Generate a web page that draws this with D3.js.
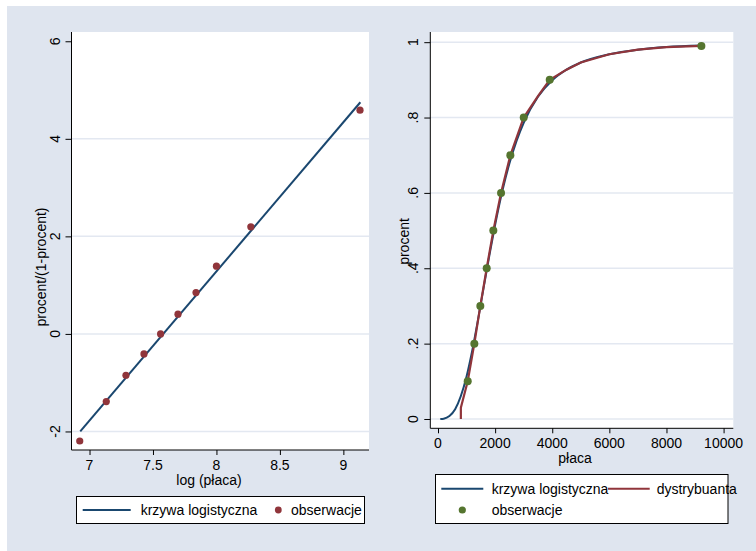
<!DOCTYPE html>
<html>
<head>
<meta charset="utf-8">
<script src="https://cdn.jsdelivr.net/npm/d3@7"></script>
<style>
body { margin: 0; background: #fff; }
svg text { font-family: "Liberation Sans", Arial, sans-serif; font-size: 14px; fill: #000; }
</style>
</head>
<body>
<div id="wykres"></div>
<script>
// lewy panel: logit procentu wzgledem log(placa)
var logPlaca = [6.923, 7.132, 7.287, 7.429, 7.560, 7.697, 7.839, 8.0, 8.271, 9.131];
var logitProcent = [-2.195, -1.388, -0.847, -0.41, 0, 0.405, 0.847, 1.388, 2.195, 4.588];
var prostaX = [6.927, 9.134];
var prostaY = [-2.0, 4.75];
var lewyTicksX = [7, 7.5, 8, 8.5, 9];
var lewyTicksY = [-2, 0, 2, 4, 6];

// prawy panel: procent wzgledem placy
var placa = [1040, 1272, 1482, 1705, 1937, 2207, 2533, 3001, 3912, 9222];
var procent = [0.1, 0.2, 0.3, 0.4, 0.5, 0.6, 0.7, 0.8, 0.9, 0.99];
var krzywaX = [80, 200, 400, 600, 800, 1000, 1200, 1400, 1600, 1800, 2000, 2250, 2500, 2750, 3000, 3500, 4000, 4500, 5000, 6000, 7000, 8000, 9230];
var krzywaY = [0.0001, 0.0009, 0.008, 0.026, 0.061, 0.113, 0.182, 0.263, 0.350, 0.435, 0.515, 0.604, 0.678, 0.738, 0.786, 0.855, 0.899, 0.927, 0.946, 0.968, 0.980, 0.987, 0.991];
var dystX = [800, 800, 1040, 1272, 1482, 1705, 1937, 2207, 2533, 3001, 3500, 3912, 4500, 5000, 6000, 7000, 8000, 9222];
var dystY = [0, 0.03, 0.1, 0.2, 0.3, 0.4, 0.5, 0.6, 0.7, 0.8, 0.857, 0.9, 0.927, 0.946, 0.968, 0.980, 0.987, 0.99];
var prawyTicksX = [0, 2000, 4000, 6000, 8000, 10000];
var prawyTicksY = [0, 0.2, 0.4, 0.6, 0.8, 1];
var prawyLabelsY = ["0", ".2", ".4", ".6", ".8", "1"];

var w = 756, h = 551;
var granat = '#1a476f', bordo = '#90353b', zielony = '#55752f';
var tlo = '#dfe5ef', siatka = '#e3e8f1';

var svg = d3.select("#wykres").append("svg")
   .attr("width", w)
   .attr("height", h);

svg.append("rect")
   .attr("x", 7).attr("y", 6)
   .attr("width", w - 7).attr("height", h - 6)
   .attr("fill", tlo);

function panel(o) {
  var x = d3.scaleLinear().domain(o.domX).range([o.left, o.right]);
  var y = d3.scaleLinear().domain(o.domY).range([o.bottom, o.top]);
  var g = svg.append("g");

  g.append("rect")
   .attr("x", o.left).attr("y", o.top)
   .attr("width", o.right - o.left).attr("height", o.bottom - o.top)
   .attr("fill", "white");

  // linie siatki
  g.selectAll(".siatka")
   .data(o.ticksY.filter(function(d) { return o.gridY(d); }))
   .enter().append("line")
   .attr("x1", o.left).attr("x2", o.right)
   .attr("y1", function(d) { return y(d); })
   .attr("y2", function(d) { return y(d); })
   .attr("stroke", siatka).attr("stroke-width", 1.5);

  // osie
  var osY = d3.axisLeft(y).tickValues(o.ticksY).tickSize(6).tickFormat("");
  g.append("g").attr("transform", "translate(" + o.left + ",0)").call(osY)
   .call(function(s) { s.select(".domain").attr("d", "M0," + o.top + "V" + o.bottom); });
  var osX = d3.axisBottom(x).tickValues(o.ticksX).tickSize(5).tickFormat("");
  g.append("g").attr("transform", "translate(0," + o.bottom + ")").call(osX)
   .call(function(s) { s.select(".domain").attr("d", "M" + o.left + ",0H" + o.right); });
  g.selectAll(".domain, .tick line").attr("stroke", "#000");

  g.selectAll(".etykY")
   .data(o.ticksY)
   .enter().append("text")
   .attr("transform", function(d) { return "translate(" + (o.left - 12) + "," + y(d) + ") rotate(-90)"; })
   .attr("text-anchor", "middle")
   .text(function(d, i) { return o.labelsY[i]; });

  g.selectAll(".etykX")
   .data(o.ticksX)
   .enter().append("text")
   .attr("x", function(d) { return x(d); })
   .attr("y", o.bottom + 19.5)
   .attr("text-anchor", "middle")
   .text(function(d) { return d; });

  g.append("text")
   .attr("x", o.tytulX[0]).attr("y", o.tytulX[1])
   .attr("text-anchor", "middle")
   .text(o.tytulX[2]);
  g.append("text")
   .attr("transform", "translate(" + o.tytulY[0] + "," + o.tytulY[1] + ") rotate(-90)")
   .attr("text-anchor", "middle")
   .text(o.tytulY[2]);

  return {x: x, y: y, g: g};
}

var lewy = panel({
  left: 71.5, right: 369, top: 32, bottom: 450,
  domX: [6.858, 9.202], domY: [-2.38, 6.19],
  ticksX: lewyTicksX, ticksY: lewyTicksY,
  labelsY: lewyTicksY.map(String),
  gridY: function(d) { return d < 6; },
  tytulX: [209, 485, "log (płaca)"],
  tytulY: [46, 267, "procent/(1-procent)"]
});

var linia = d3.line()
   .x(function(d) { return lewy.x(d[0]); })
   .y(function(d) { return lewy.y(d[1]); });

lewy.g.append("path")
   .datum(d3.zip(prostaX, prostaY))
   .attr("d", linia)
   .attr("fill", "none")
   .attr("stroke", granat)
   .attr("stroke-width", 2);

lewy.g.selectAll(".obs")
   .data(d3.zip(logPlaca, logitProcent))
   .enter().append("circle")
   .attr("cx", function(d) { return lewy.x(d[0]); })
   .attr("cy", function(d) { return lewy.y(d[1]); })
   .attr("r", 3.6)
   .attr("fill", bordo);

var prawy = panel({
  left: 430.3, right: 733.3, top: 32, bottom: 428.3,
  domX: [-270, 10340], domY: [-0.0247, 1.027],
  ticksX: prawyTicksX, ticksY: prawyTicksY,
  labelsY: prawyLabelsY,
  gridY: function(d) { return true; },
  tytulX: [575, 463, "płaca"],
  tytulY: [409, 241.5, "procent"]
});

var linia2 = d3.line()
   .x(function(d) { return prawy.x(d[0]); })
   .y(function(d) { return prawy.y(d[1]); })
   .curve(d3.curveMonotoneX);

prawy.g.append("path")
   .datum(d3.zip(krzywaX, krzywaY))
   .attr("d", linia2)
   .attr("fill", "none")
   .attr("stroke", granat)
   .attr("stroke-width", 2);

prawy.g.append("path")
   .datum(d3.zip(dystX, dystY))
   .attr("d", linia2.curve(d3.curveLinear))
   .attr("fill", "none")
   .attr("stroke", bordo)
   .attr("stroke-width", 2.2);

prawy.g.selectAll(".obs")
   .data(d3.zip(placa, procent))
   .enter().append("circle")
   .attr("cx", function(d) { return prawy.x(d[0]); })
   .attr("cy", function(d) { return prawy.y(d[1]); })
   .attr("r", 4)
   .attr("fill", zielony);

// legendy
var leg1 = svg.append("g");
leg1.append("rect").attr("x", 76.5).attr("y", 496.5).attr("width", 288).attr("height", 27)
   .attr("fill", "white").attr("stroke", "#000");
leg1.append("line").attr("x1", 82.7).attr("x2", 130.7).attr("y1", 510).attr("y2", 510)
   .attr("stroke", granat).attr("stroke-width", 2);
leg1.append("text").attr("x", 140.7).attr("y", 515).text("krzywa logistyczna");
leg1.append("circle").attr("cx", 278.3).attr("cy", 510).attr("r", 3.4).attr("fill", bordo);
leg1.append("text").attr("x", 291).attr("y", 515).text("obserwacje");

var leg2 = svg.append("g");
leg2.append("rect").attr("x", 435.5).attr("y", 474.5).attr("width", 292.5).attr("height", 49)
   .attr("fill", "white").attr("stroke", "#000");
leg2.append("line").attr("x1", 441.3).attr("x2", 483.3).attr("y1", 488.7).attr("y2", 488.7)
   .attr("stroke", granat).attr("stroke-width", 2);
leg2.append("text").attr("x", 491.7).attr("y", 493.5).text("krzywa logistyczna");
leg2.append("line").attr("x1", 608).attr("x2", 649.7).attr("y1", 488.7).attr("y2", 488.7)
   .attr("stroke", bordo).attr("stroke-width", 2);
leg2.append("text").attr("x", 656.7).attr("y", 493.5).text("dystrybuanta");
leg2.append("circle").attr("cx", 462.3).attr("cy", 510).attr("r", 3.6).attr("fill", zielony);
leg2.append("text").attr("x", 491.7).attr("y", 515).text("obserwacje");
</script>
</body>
</html>
